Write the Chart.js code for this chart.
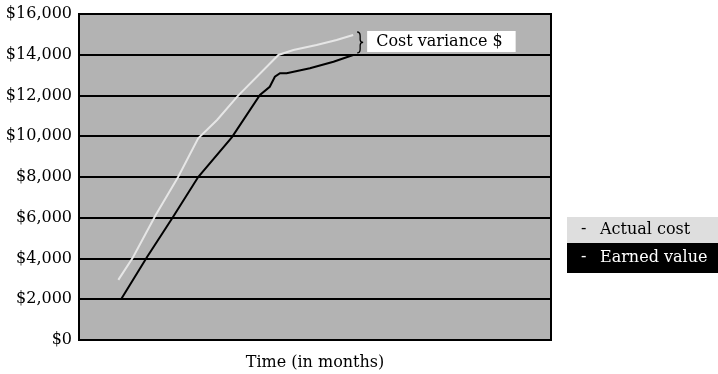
<!DOCTYPE html>
<html>
<head>
<meta charset="utf-8">
<title>Cost variance</title>
<script src="https://cdn.jsdelivr.net/npm/chart.js@4/dist/chart.umd.min.js"></script>
<style>
  html, body { margin: 0; padding: 0; background: #ffffff; }
  #wrap { width: 718px; height: 374px; position: relative; }
</style>
</head>
<body>
<div id="wrap"><canvas id="chart"></canvas></div>
<script>
// Series names
const seriesNames = ['Actual cost', 'Earned value'];

// Actual cost: month, cumulative dollars
const actualCostMonths = [1.00, 1.37, 1.95, 2.52, 3.03, 3.51, 4.04, 5.07, 5.45, 6.04, 6.55, 6.97];
const actualCostValues = [2950, 4050, 6130, 8000, 9900, 10800, 11980, 13990, 14230, 14480, 14720, 14970];

// Earned value: month, cumulative dollars
const earnedValueMonths = [1.07, 1.73, 2.39, 3.03, 3.89, 4.60, 4.85, 4.98, 5.11, 5.28, 5.87, 6.47, 6.97];
const earnedValueValues = [2000, 4070, 6040, 8000, 9960, 12030, 12430, 12920, 13090, 13090, 13340, 13660, 13990];

// Value axis ticks
const yTickValues = [0, 2000, 4000, 6000, 8000, 10000, 12000, 14000, 16000];
const xAxisTitle = 'Time (in months)';
const varianceLabel = 'Cost variance $';

const FONT = 'DejaVu Serif';
const PLOT_BG = '#b3b3b3';
const AC_COLOR = '#e6e6e6';
const EV_COLOR = '#000000';

const toPoints = (xs, ys) => xs.map((x, i) => ({ x: x, y: ys[i] }));

// Gray plot background and black frame
const plotFrame = {
  id: 'plotFrame',
  beforeDraw(chart) {
    const { ctx, chartArea: a } = chart;
    ctx.save();
    ctx.fillStyle = PLOT_BG;
    ctx.fillRect(a.left, a.top, a.right - a.left, a.bottom - a.top);
    ctx.restore();
  },
  beforeDatasetsDraw(chart) {
    const { ctx, chartArea: a } = chart;
    ctx.save();
    ctx.strokeStyle = '#000';
    ctx.lineWidth = 2;
    ctx.strokeRect(a.left, a.top, a.right - a.left, a.bottom - a.top);
    ctx.restore();
  }
};

// Brace and label between the two series' last points
const varianceNote = {
  id: 'varianceNote',
  afterDatasetsDraw(chart) {
    const { ctx } = chart;
    const acEnd = chart.getDatasetMeta(0).data.at(-1);
    const evEnd = chart.getDatasetMeta(1).data.at(-1);
    if (!acEnd || !evEnd) return;
    const top = acEnd.y - 3;
    const bot = evEnd.y - 2;
    const mid = (top + bot) / 2;
    const bx = Math.max(acEnd.x, evEnd.x) + 4;
    ctx.save();
    ctx.strokeStyle = '#000';
    ctx.lineWidth = 1.3;
    ctx.beginPath();
    ctx.moveTo(bx, top);
    ctx.quadraticCurveTo(bx + 3, top, bx + 3, top + 4);
    ctx.lineTo(bx + 3, mid - 3);
    ctx.quadraticCurveTo(bx + 3, mid, bx + 6, mid);
    ctx.quadraticCurveTo(bx + 3, mid, bx + 3, mid + 3);
    ctx.lineTo(bx + 3, bot - 4);
    ctx.quadraticCurveTo(bx + 3, bot, bx, bot);
    ctx.stroke();

    const boxX = bx + 10;
    const boxY = top - 1;
    ctx.font = '16px "' + FONT + '"';
    const w = ctx.measureText(varianceLabel).width + 22;
    ctx.fillStyle = '#ffffff';
    ctx.fillRect(boxX, boxY, w, 21);
    ctx.fillStyle = '#000';
    ctx.textBaseline = 'middle';
    ctx.textAlign = 'left';
    ctx.fillText(varianceLabel, boxX + 9, boxY + 11);
    ctx.restore();
  }
};

// Legend drawn as stacked filled rows to the right of the plot
const sideLegend = {
  id: 'sideLegend',
  afterDraw(chart) {
    const { ctx, chartArea: a } = chart;
    const left = a.right + 16;
    const rows = [
      { label: chart.data.datasets[0].label, bg: '#dedede', fg: '#000', h: 26 },
      { label: chart.data.datasets[1].label, bg: '#000000', fg: '#fff', h: 30 }
    ];
    let y = a.top + 203;
    ctx.save();
    ctx.font = '16px "' + FONT + '"';
    ctx.textBaseline = 'middle';
    ctx.textAlign = 'left';
    rows.forEach(r => {
      ctx.fillStyle = r.bg;
      ctx.fillRect(left, y, chart.width - left, r.h);
      ctx.fillStyle = r.fg;
      ctx.fillText('-', left + 14, y + r.h / 2 - 1);
      ctx.fillText(r.label, left + 33, y + r.h / 2);
      y += r.h;
    });
    ctx.restore();
  }
};

new Chart(document.getElementById('chart'), {
  type: 'line',
  data: {
    datasets: [
      {
        label: seriesNames[0],
        data: toPoints(actualCostMonths, actualCostValues),
        borderColor: AC_COLOR,
        borderWidth: 2,
        pointRadius: 0,
        tension: 0
      },
      {
        label: seriesNames[1],
        data: toPoints(earnedValueMonths, earnedValueValues),
        borderColor: EV_COLOR,
        borderWidth: 2,
        pointRadius: 0,
        tension: 0
      }
    ]
  },
  options: {
    responsive: true,
    maintainAspectRatio: false,
    animation: false,
    events: [],
    layout: { padding: { left: 0, right: 167, top: 14, bottom: 0 } },
    plugins: {
      legend: { display: false },
      tooltip: { enabled: false }
    },
    scales: {
      x: {
        type: 'linear',
        min: 0,
        max: 12,
        grid: { display: false },
        border: { display: false },
        ticks: { display: false },
        title: {
          display: true,
          text: xAxisTitle,
          color: '#000',
          font: { family: FONT, size: 16 },
          padding: { top: 0, bottom: 2 }
        },
        afterFit(scale) { scale.height = 34; }
      },
      y: {
        min: 0,
        max: 16000,
        afterBuildTicks(scale) { scale.ticks = yTickValues.map(v => ({ value: v })); },
        grid: { color: '#000', lineWidth: 2, drawTicks: false },
        border: { display: true, color: '#000', width: 2 },
        ticks: {
          color: '#000',
          padding: 7,
          font: { family: FONT, size: 16, lineHeight: 1.0 },
          callback: v => '$' + Number(v).toLocaleString('en-US')
        },
        afterFit(scale) {
          scale.width = 79;
          scale.paddingTop = 0;
          scale.paddingBottom = 0;
        }
      }
    }
  },
  plugins: [plotFrame, varianceNote, sideLegend]
});
</script>
</body>
</html>
